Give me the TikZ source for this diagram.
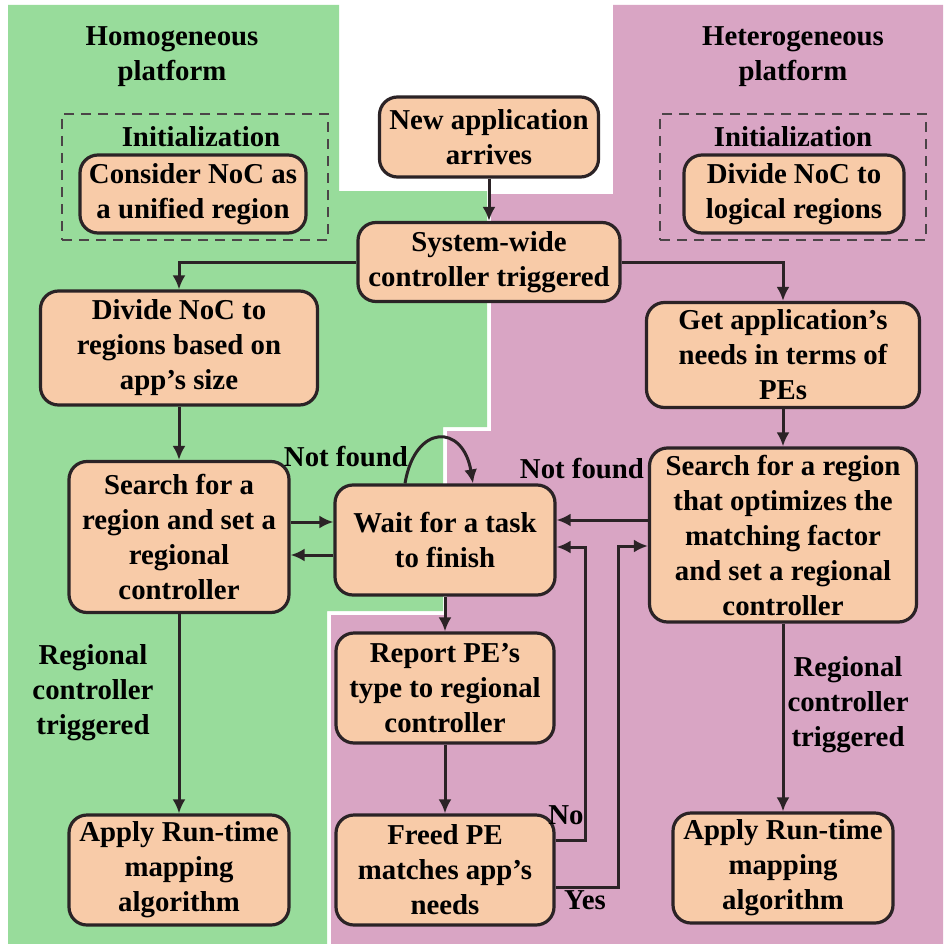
\documentclass[tikz,border=0pt]{standalone}
\usepackage{fontspec}
\setmainfont{Liberation Serif}
\usetikzlibrary{arrows.meta}
\definecolor{homog}{HTML}{98DC9B}
\definecolor{heterog}{HTML}{D9A5C4}
\definecolor{boxfill}{HTML}{F8CBA8}
\definecolor{ink}{HTML}{2B2326}
\begin{document}
\begin{tikzpicture}[x=1pt,y=-1pt,
  every node/.style={font=\fontsize{28.8}{35}\selectfont\bfseries, align=center, inner sep=0pt, text=black},
  proc/.style={draw=ink, fill=boxfill, line width=3.2pt, rounded corners=18pt},
  initframe/.style={draw=ink!85, dash pattern=on 10pt off 7pt, line width=2.6pt},
  arr/.style={draw=ink, line width=3pt, -{Latex[length=14pt,width=13pt]}}]
\useasboundingbox (0,0) rectangle (943,944);
\fill[white] (0,0) rectangle (943,944);
% platform areas
\fill[homog] (8,5) -- (339,5) -- (339,191) -- (487,191) -- (487,427) -- (443,427)
  -- (443,611) -- (327,611) -- (327,944) -- (8,944) -- cycle;
\fill[heterog] (613,5) -- (943,5) -- (943,944) -- (331,944) -- (331,615) -- (447,615)
  -- (447,431) -- (491,431) -- (491,194) -- (613,194) -- cycle;

% titles
\node (homtitle) at (172,57) {Homogeneous\\platform};
\node (hettitle) at (793,57) {Heterogeneous\\platform};

% initialization frames
\node[initframe, minimum width=266pt, minimum height=126pt] (initL) at (195,177) {};
\node[initframe, minimum width=266pt, minimum height=126pt] (initR) at (793,177) {};
\node (initLt) at (201,137) {Initialization};
\node (initRt) at (793,137) {Initialization};
\node[proc, minimum width=226pt, minimum height=78pt] (consider) at (193,194) {Consider NoC as\\a unified region};
\node[proc, minimum width=220pt, minimum height=78pt] (divlog) at (794,194) {Divide NoC to\\logical regions};

% process steps
\node[proc, minimum width=219pt, minimum height=80pt] (newapp) at (489,137) {New application\\arrives};
\node[proc, minimum width=262pt, minimum height=79pt] (syswide) at (489,262) {System-wide\\controller triggered};
\node[proc, minimum width=277pt, minimum height=114pt] (divide) at (179,348) {Divide NoC to\\regions based on\\app’s size};
\node[proc, minimum width=273pt, minimum height=105pt] (getapp) at (783,355) {Get application’s\\needs in terms of\\PEs};
\node[proc, minimum width=220pt, minimum height=151pt] (searchL) at (179,537) {Search for a\\region and set a\\regional\\controller};
\node[proc, minimum width=220pt, minimum height=110pt] (wait) at (445,540) {Wait for a task\\to finish};
\node[proc, minimum width=267pt, minimum height=174pt] (searchR) at (783,535) {Search for a region\\that optimizes the\\matching factor\\and set a regional\\controller};
\node[proc, minimum width=218pt, minimum height=110pt] (report) at (445,688) {Report PE’s\\type to regional\\controller};
\node[proc, minimum width=218pt, minimum height=110pt] (freed) at (445,870) {Freed PE\\matches app’s\\needs};
\node[proc, minimum width=220pt, minimum height=110pt] (applyL) at (179,870) {Apply Run-time\\mapping\\algorithm};
\node[proc, minimum width=220pt, minimum height=110pt] (applyR) at (783,868) {Apply Run-time\\mapping\\algorithm};

% labels
\node (nfL) at (346,457) {Not found};
\node (nfR) at (582,469) {Not found};
\node (lno) at (566,815) {No};
\node (lyes) at (585,900) {Yes};
\node (trigL) at (93,693) {Regional\\controller\\triggered};
\node (trigR) at (848,705) {Regional\\controller\\triggered};

% helper levels and bends
\coordinate (lvlA) at (0,522);
\coordinate (lvlB) at (0,555);
\coordinate (lvlC) at (0,520);
\coordinate (noBend) at (585,547);
\coordinate (yesBend) at (618,546);

% connectors
\draw[arr] (newapp) -- (syswide);
\draw[arr] (syswide.west) -| (divide.north);
\draw[arr] (syswide.east) -| (getapp.north);
\draw[arr] (divide) -- (searchL);
\draw[arr] (getapp) -- (searchR);
\draw[arr] (searchL.east |- lvlA) -- (wait.west |- lvlA);
\draw[arr] (wait.west |- lvlB) -- (searchL.east |- lvlB);
\draw[arr] ([xshift=-40pt]wait.north) .. controls +(10,-60) and +(-10,-60) .. ([xshift=28pt]wait.north);
\draw[arr] (searchR.west |- lvlC) -- (wait.east |- lvlC);
\draw[arr] (wait) -- (report);
\draw[arr] (report) -- (freed);
\draw[arr] ([yshift=30pt]freed.east) -| (noBend) -- (noBend -| wait.east);
\draw[arr] ([yshift=-17pt]freed.east) -| (yesBend) -- (yesBend -| searchR.west);
\draw[arr] (searchL) -- (applyL);
\draw[arr] (searchR) -- (applyR);
\end{tikzpicture}
\end{document}
